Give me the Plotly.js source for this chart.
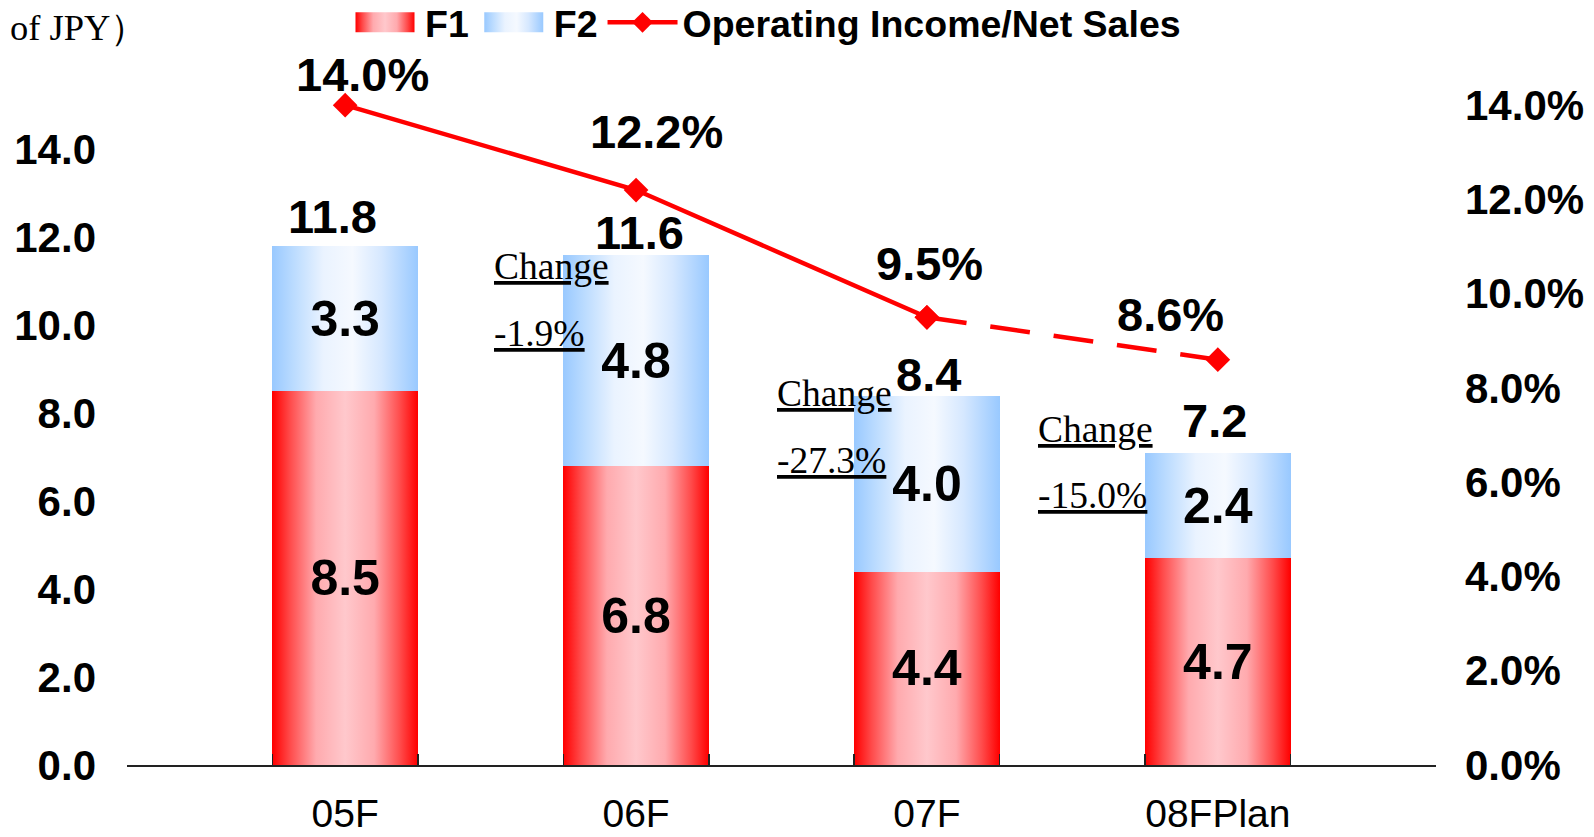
<!DOCTYPE html>
<html>
<head>
<meta charset="utf-8">
<script src="https://cdn.plot.ly/plotly-3.0.1.min.js"></script>
<style>
html,body{margin:0;padding:0;background:#fff;}
#chart{width:1594px;height:837px;}
</style>
</head>
<body>
<div id="chart"></div>
<script>
// ---- data ----
const categories = ['05F', '06F', '07F', '08FPlan'];
const f1Values = [8.5, 6.8, 4.4, 4.7];
const f2Values = [3.3, 4.8, 4.0, 2.4];
const totalLabels = [11.8, 11.6, 8.4, 7.2];
const marginRatio = [0.140, 0.122, 0.095, 0.086];
const changeLabels = [null, '-1.9%', '-27.3%', '-15.0%'];
const seriesNames = ['F1', 'F2', 'Operating Income/Net Sales'];
const unitLabel = 'of JPY\uFF09';
const leftTicks = [0, 2, 4, 6, 8, 10, 12, 14];
const rightTicks = [0, 0.02, 0.04, 0.06, 0.08, 0.10, 0.12, 0.14];

// ---- style / placement ----
const SANS = 'Liberation Sans, Arial, sans-serif';
const SERIF = 'Liberation Serif, Times New Roman, serif';
const RED = '#ff0000';
const W = 1594, H = 837;
const M = {l: 127, r: 158, t: 10, b: 72};
const plotW = W - M.l - M.r, plotH = H - M.t - M.b;
const px2paperX = px => (px - M.l) / plotW;
const px2paperY = py => (H - M.b - py) / plotH;

const xs = categories.map((_, i) => i);
const barWidth = 0.5;
const xRange = [-0.75, categories.length - 0.25];
const leftRange = [0, 17.18];
const rightRange = [0, 0.1602];
// slot boundaries (tick marks)
const boundaryTicks = [xRange[0]];
xs.forEach(i => { boundaryTicks.push(i - barWidth / 2, i + barWidth / 2); });
boundaryTicks.push(xRange[1]);

const totalShift = [[-13, 30], [3, 23], [2, 21], [-3, 32]];
const ratioShift = [[17, 31], [20, 59], [3, 54], [-47, 45]];
// change annotations: [x offset from category, y of "Change", y of value] in left-axis units
const changePlace = [null, [-0.493, 11.34, 9.83], [-0.52, 8.45, 6.92], [-0.623, 7.64, 6.13]];

const traces = [
  {
    type: 'bar', name: seriesNames[0], x: xs, y: f1Values, width: barWidth,
    marker: {color: '#ff6b6b', line: {width: 0}},
    text: f1Values.map(v => v.toFixed(1)), textposition: 'inside', insidetextanchor: 'middle',
    textangle: 0, constraintext: 'none',
    textfont: {family: SANS, size: 50, color: '#000', weight: 'bold'},
    hoverinfo: 'skip'
  },
  {
    type: 'bar', name: seriesNames[1], x: xs, y: f2Values, width: barWidth,
    marker: {color: '#cfe4ff', line: {width: 0}},
    text: f2Values.map(v => v.toFixed(1)), textposition: 'inside', insidetextanchor: 'middle',
    textangle: 0, constraintext: 'none',
    textfont: {family: SANS, size: 50, color: '#000', weight: 'bold'},
    hoverinfo: 'skip'
  },
  {
    type: 'scatter', mode: 'lines+markers', name: seriesNames[2],
    x: xs.slice(0, 3), y: marginRatio.slice(0, 3), xaxis: 'x2', yaxis: 'y2',
    line: {color: RED, width: 4.5},
    marker: {symbol: 'diamond', size: 19, color: RED},
    hoverinfo: 'skip', cliponaxis: false
  },
  {
    type: 'scatter', mode: 'lines+markers', name: seriesNames[2], showlegend: false,
    x: xs.slice(2), y: marginRatio.slice(2), xaxis: 'x2', yaxis: 'y2',
    line: {color: RED, width: 4.5, dash: '40px,24px'},
    marker: {symbol: 'diamond', size: 19, color: RED},
    hoverinfo: 'skip', cliponaxis: false
  }
];

const annotations = [];
xs.forEach(i => {
  annotations.push({
    x: i, y: f1Values[i] + f2Values[i], xref: 'x', yref: 'y',
    text: '<b>' + totalLabels[i].toFixed(1) + '</b>', showarrow: false,
    xanchor: 'center', yanchor: 'middle', borderpad: 0,
    xshift: totalShift[i][0], yshift: totalShift[i][1],
    font: {family: SANS, size: 47, color: '#000'}
  });
  annotations.push({
    x: i, y: marginRatio[i], xref: 'x2', yref: 'y2',
    text: '<b>' + (marginRatio[i] * 100).toFixed(1) + '%</b>', showarrow: false,
    xanchor: 'center', yanchor: 'middle',
    xshift: ratioShift[i][0], yshift: ratioShift[i][1],
    font: {family: SANS, size: 47, color: '#000'}
  });
  if (changeLabels[i]) {
    const p = changePlace[i];
    annotations.push({
      x: i + p[0], y: p[1], xref: 'x', yref: 'y', text: '<u>Change</u>', showarrow: false,
      xanchor: 'left', yanchor: 'middle', borderpad: 0,
      font: {family: SERIF, size: 37.5, color: '#000'}
    });
    annotations.push({
      x: i + p[0], y: p[2], xref: 'x', yref: 'y', text: '<u>' + changeLabels[i] + '</u>', showarrow: false,
      xanchor: 'left', yanchor: 'middle', borderpad: 0,
      font: {family: SERIF, size: 37.5, color: '#000'}
    });
  }
});
annotations.push({
  x: px2paperX(8), y: px2paperY(27.5), xref: 'paper', yref: 'paper', text: unitLabel, showarrow: false,
  xanchor: 'left', yanchor: 'middle', font: {family: SERIF, size: 36.5, color: '#000'}
});

const layout = {
  width: W, height: H,
  margin: {l: M.l, r: M.r, t: M.t, b: M.b, pad: 0, autoexpand: false},
  paper_bgcolor: '#fff', plot_bgcolor: 'rgba(0,0,0,0)',
  barmode: 'stack',
  showlegend: true,
  legend: {
    orientation: 'h', x: px2paperX(345), y: px2paperY(22.4), xanchor: 'left', yanchor: 'middle',
    traceorder: 'normal', itemwidth: 70, bgcolor: 'rgba(0,0,0,0)',
    font: {family: SANS, size: 37.5, color: '#000', weight: 'bold'}
  },
  xaxis: {
    type: 'linear', range: xRange, fixedrange: true,
    tickmode: 'array', tickvals: boundaryTicks, showticklabels: false,
    ticks: 'inside', ticklen: 11, tickwidth: 1.5, tickcolor: '#222',
    showline: true, linecolor: '#222', linewidth: 1.5,
    showgrid: false, zeroline: false
  },
  xaxis2: {
    type: 'linear', range: xRange, overlaying: 'x', anchor: 'y', side: 'bottom',
    tickmode: 'array', tickvals: xs, ticktext: categories, ticks: '',
    ticklabelstandoff: 22,
    tickfont: {family: SANS, size: 39, color: '#000'},
    showline: false, showgrid: false, zeroline: false
  },
  yaxis: {
    range: leftRange, tickmode: 'array', tickvals: leftTicks,
    ticktext: leftTicks.map(v => v.toFixed(1)),
    tickfont: {family: SANS, size: 42, color: '#000', weight: 'bold'},
    ticks: '', ticklabelstandoff: 30,
    showline: false, showgrid: false, zeroline: false
  },
  yaxis2: {
    range: rightRange, overlaying: 'y', side: 'right', anchor: 'x2',
    tickmode: 'array', tickvals: rightTicks,
    ticktext: rightTicks.map(v => (v * 100).toFixed(1) + '%'),
    tickfont: {family: SANS, size: 42, color: '#000', weight: 'bold'},
    ticks: '', ticklabelstandoff: 28,
    showline: false, showgrid: false, zeroline: false
  },
  annotations: annotations
};

const gd = document.getElementById('chart');
Plotly.newPlot(gd, traces, layout, {staticPlot: true, displayModeBar: false}).then(() => {
  const ns = 'http://www.w3.org/2000/svg';
  const svg = gd.querySelector('svg.main-svg');
  let defs = svg.querySelector('defs');
  if (!defs) { defs = document.createElementNS(ns, 'defs'); svg.insertBefore(defs, svg.firstChild); }
  function grad(id, stops) {
    const lg = document.createElementNS(ns, 'linearGradient');
    lg.setAttribute('id', id);
    lg.setAttribute('x1', '0'); lg.setAttribute('x2', '1');
    lg.setAttribute('y1', '0'); lg.setAttribute('y2', '0');
    stops.forEach(s => {
      const st = document.createElementNS(ns, 'stop');
      st.setAttribute('offset', s[0]);
      st.setAttribute('stop-color', s[1]);
      lg.appendChild(st);
    });
    defs.appendChild(lg);
  }
  grad('gradF1', [[0, '#ff0000'], [0.12, '#ff4a4a'], [0.3, '#ffaaae'], [0.5, '#ffc8cc'], [0.7, '#ffaaae'], [0.88, '#ff4a4a'], [1, '#ff0000']]);
  grad('gradF2', [[0, '#99c9ff'], [0.15, '#bcdcff'], [0.35, '#eaf3ff'], [0.55, '#f5f9ff'], [0.75, '#d6e8ff'], [1, '#99c9ff']]);
  const gradIds = ['gradF1', 'gradF2'];
  gd.querySelectorAll('.barlayer .trace').forEach((t, i) => {
    t.querySelectorAll('.point path').forEach(p => { p.style.fill = 'url(#' + gradIds[i] + ')'; });
  });
  gd.querySelectorAll('.legend .traces').forEach(t => {
    const txt = t.querySelector('text.legendtext');
    const name = txt ? txt.getAttribute('data-unformatted') : '';
    const k = [seriesNames[0], seriesNames[1]].indexOf(name);
    if (k >= 0) {
      t.querySelectorAll('.legendpoints path').forEach(p => {
        p.setAttribute('d', 'M-29.5,-10H29.5V10H-29.5Z');
        p.style.fill = 'url(#' + gradIds[k] + ')';
        p.style.stroke = 'none';
      });
    }
  });
});
</script>
</body>
</html>
